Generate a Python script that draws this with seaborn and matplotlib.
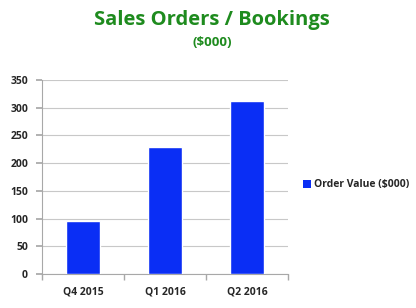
import matplotlib
matplotlib.use("Agg")
import matplotlib.pyplot as plt
import seaborn as sns
import pandas as pd
from matplotlib.patches import Patch

categories = ["Q4 2015", "Q1 2016", "Q2 2016"]
values = [96, 229, 312]
series_name = "Order Value ($000)"
yticks = [0, 50, 100, 150, 200, 250, 300, 350]

sns.set_theme(style="white")
plt.rcParams['font.family'] = ['Open Sans', 'DejaVu Sans']

df = pd.DataFrame({"Quarter": categories, "Value": values})

fig = plt.figure(figsize=(4.16, 3.08), dpi=100)
ax = fig.add_axes([42/416, 1 - 274/308, (288-42)/416, (274-80)/308])
sns.barplot(data=df, x="Quarter", y="Value", color="#0A2EF5", width=0.41,
            saturation=1, ax=ax, zorder=3)
ax.set_ylim(0, 350)
ax.set_xlim(-0.5, 2.5)
ax.set_yticks(yticks)
ax.set_yticklabels([str(t) for t in yticks], fontsize=7.5, fontweight="bold")
ax.set_xticks(range(len(categories)))
ax.set_xticklabels(categories, fontsize=7.5, fontweight="bold")
ax.set_xlabel("")
ax.set_ylabel("")
ax.yaxis.grid(True, color="#C8C8C8", linewidth=0.8, zorder=0)
for s in ["top", "right"]:
    ax.spines[s].set_visible(False)
for s in ["left", "bottom"]:
    ax.spines[s].set_color("#A8A8A8")
    ax.spines[s].set_linewidth(0.8)
ax.tick_params(axis="y", length=4, color="#A8A8A8", pad=6, left=True)
ax.tick_params(axis="x", length=0, pad=9)
ax.set_xticks([-0.5, 0.5, 1.5, 2.5], minor=True)
ax.tick_params(axis="x", which="minor", length=4, color="#A8A8A8", bottom=True)

fig.text(212/416, 1 - 20/308, "Sales Orders / Bookings", ha="center", va="center",
         fontsize=14.5, fontweight="bold", color="#1E8B1E")
fig.text(212/416, 1 - 43/308, "($000)", ha="center", va="center",
         fontsize=9.5, fontweight="bold", color="#1E8B1E")

handle = Patch(facecolor="#0A2EF5", edgecolor="none")
fig.legend([handle], [series_name], loc="center left",
           bbox_to_anchor=(294/416, 1 - 185/308), frameon=False,
           prop={"size": 7.5, "weight": "bold"}, handlelength=0.7, handleheight=0.7,
           handletextpad=0.3)

fig.savefig("out.png", dpi=100, facecolor="white")
